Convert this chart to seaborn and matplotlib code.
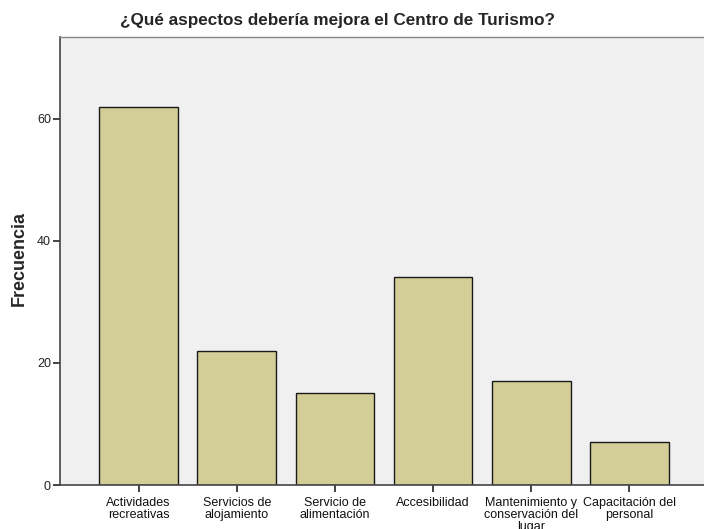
import matplotlib
matplotlib.use("Agg")
import matplotlib.pyplot as plt
import seaborn as sns
import pandas as pd

categorias = ["Actividades\nrecreativas", "Servicios de\nalojamiento", "Servicio de\nalimentación",
              "Accesibilidad", "Mantenimiento y\nconservación del\nlugar", "Capacitación del\npersonal"]
frecuencias = [62, 22, 15, 34, 17, 7]
yticks = [0, 20, 40, 60]

sns.set_style("white")
plt.rcParams['font.family'] = ['Liberation Sans', 'DejaVu Sans']

df = pd.DataFrame({"cat": categorias, "freq": frecuencias})

fig = plt.figure(figsize=(7.04, 5.29), dpi=100)
ax = fig.add_axes([60/704, 44/529, 648/704, 448/529])
ax.set_facecolor("#F0F0F0")

sns.barplot(data=df, x="cat", y="freq", color="#D3CE97", saturation=1,
            edgecolor="#1a1a1a", linewidth=1.0, width=0.8, ax=ax)

ax.set_xlim(-0.8, 5.8)
ax.set_ylim(0, 73.4)
ax.set_yticks(yticks)
ax.set_yticklabels([str(v) for v in yticks], fontsize=9, color="#222222")
ax.set_xticks(range(len(categorias)))
ax.set_xticklabels(categorias, fontsize=9, color="#111111", linespacing=1.0)
ax.tick_params(axis="both", bottom=True, left=True, length=5, width=1.2,
               color="#222222", direction="out", pad=1.5)
ax.tick_params(axis="x", pad=3.5)

ax.set_xlabel("")
ax.set_ylabel("Frecuencia", fontsize=13, fontweight="bold")
ax.yaxis.set_label_coords(-0.049, 0.505)

for s in ["left", "bottom"]:
    ax.spines[s].set_color("#444444")
    ax.spines[s].set_linewidth(1.2)
ax.spines["top"].set_color("#888888")
ax.spines["top"].set_linewidth(1.0)
ax.spines["right"].set_visible(False)

fig.text(338/704, 1 - 20/529, "¿Qué aspectos debería mejora el Centro de Turismo?",
         ha="center", va="center", fontsize=12.3, fontweight="bold")

fig.savefig("out.png", dpi=100)
